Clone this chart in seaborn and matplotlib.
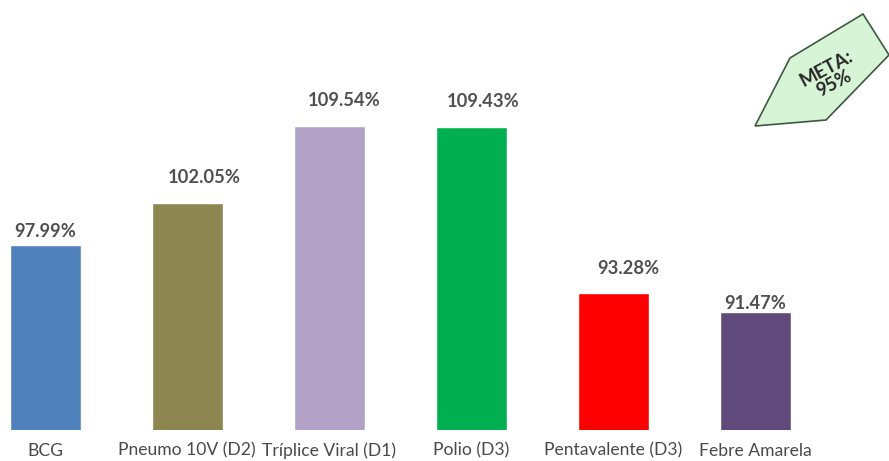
import matplotlib
matplotlib.use("Agg")
import matplotlib.pyplot as plt
from matplotlib.patches import Polygon
import seaborn as sns
import pandas as pd

vacinas = ["BCG", "Pneumo 10V (D2)", "Tríplice Viral (D1)", "Polio (D3)",
           "Pentavalente (D3)", "Febre Amarela"]
cobertura = [97.99, 102.05, 109.54, 109.43, 93.28, 91.47]
cores = ["#4F81BD", "#8E8650", "#B3A2C7", "#00B050", "#FF0000", "#604A7B"]
meta_texto = "META:\n95%"

# label offsets from bar tops (pixels) - as placed by hand in the original slide
label_dx = [0, 17, 15, 12, 15, 0]
label_dy = [13, 26, 26, 26, 25, 9]

df = pd.DataFrame({"vacina": vacinas, "cobertura": cobertura})

sns.set_style("white")
plt.rcParams["font.family"] = ["Lato", "DejaVu Sans"]

W, H = 889, 461
fig = plt.figure(figsize=(W / 100, H / 100), dpi=100)
ax = fig.add_axes([0, 31 / H, 1, 1 - 31 / H])

sns.barplot(data=df, x="vacina", y="cobertura", hue="vacina", palette=cores,
            width=0.5, legend=False, ax=ax, saturation=1)

ax.set_ylim(80, 121.8)
ax.set_xlim(-45 / 142, (W - 45) / 142)
sns.despine(ax=ax, left=True, bottom=True)
ax.set_yticks([])
ax.set_xlabel("")
ax.set_ylabel("")
ax.tick_params(axis="x", length=0, pad=9, labelsize=12.6, labelcolor="#4A4A4A")

for i, v in enumerate(cobertura):
    ax.annotate(f"{v:.2f}%", (i, v), xytext=(label_dx[i], label_dy[i]),
                textcoords="offset pixels", ha="center", va="center",
                fontsize=13.2, fontweight="bold", color="#505050")

# META arrow (pentagon pointing down-left)
pts_px = [(755, 126), (790, 58), (863, 14), (889, 55), (826, 120)]
pts = [(x / W, 1 - y / H) for x, y in pts_px]
fig.patches.append(Polygon(pts, closed=True, transform=fig.transFigure,
                           facecolor="#D8F4D6", edgecolor="#3E5A3E", lw=1.2))
fig.text(830 / W, 1 - 76 / H, meta_texto, ha="center", va="center",
         rotation=28, fontsize=13.5, fontweight="bold", color="#262626",
         linespacing=1.0)

fig.savefig("out.png", dpi=100)
